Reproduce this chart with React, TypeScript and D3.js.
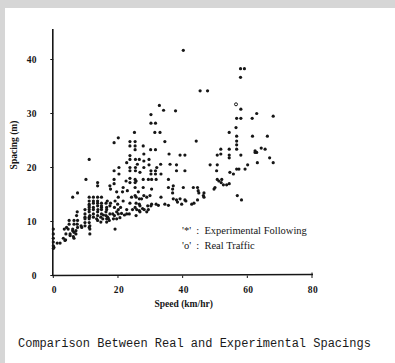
import React from "react";
import * as d3 from "d3";

// [speed (km/hr), spacing (m)]
const points: [number, number][] = [
  [40.2, 41.7], [57.9, 38.3], [59.1, 38.3], [57.9, 36.7], [45.4, 34.2], [47.7, 34.2],
  [32.8, 31.5], [58.0, 30.8], [34.1, 30.6], [37.8, 30.5], [62.9, 30.0], [30.2, 29.8],
  [68.0, 29.5], [56.7, 29.1], [58.0, 29.1], [61.5, 29.1], [30.2, 28.2], [31.6, 28.2],
  [56.5, 27.4], [31.4, 26.5], [33.0, 26.5], [25.1, 26.5], [54.4, 26.5], [56.7, 25.8],
  [61.6, 25.8], [66.2, 25.8], [20.1, 25.5], [56.7, 24.9], [44.2, 24.9], [34.5, 24.8],
  [23.7, 24.8], [25.3, 24.8], [18.8, 24.6], [56.7, 24.2], [23.7, 24.0], [25.3, 24.0],
  [27.8, 24.0], [54.4, 23.4], [56.7, 23.4], [51.8, 23.4], [30.1, 23.3], [31.6, 23.3],
  [25.3, 23.3], [62.4, 23.1], [64.3, 23.6], [65.5, 23.4], [62.4, 22.8], [62.9, 22.8],
  [28.0, 22.5], [35.8, 22.5], [51.8, 22.5], [50.7, 22.3], [58.0, 22.3], [54.4, 22.3],
  [39.2, 22.3], [40.7, 22.3], [23.7, 22.2], [54.4, 21.8], [23.7, 21.5], [25.4, 21.5],
  [29.6, 21.5], [11.1, 21.5], [26.6, 21.5], [28.0, 21.2], [22.7, 20.9], [63.1, 20.9],
  [68.0, 20.9], [66.9, 21.8], [33.2, 20.6], [26.0, 20.6], [36.1, 20.6], [29.6, 20.5],
  [38.1, 20.5], [50.7, 20.5], [48.5, 20.5], [60.1, 20.5], [23.7, 20.0], [25.4, 20.0],
  [32.0, 20.0], [20.3, 20.0], [28.0, 20.0], [56.7, 19.7], [57.4, 19.7], [59.3, 19.7],
  [23.7, 19.4], [25.4, 19.4], [30.2, 19.4], [31.6, 19.4], [50.5, 19.4], [38.1, 19.4],
  [40.7, 19.4], [18.8, 19.4], [26.8, 19.1], [54.6, 19.1], [20.3, 18.8], [30.2, 18.8],
  [31.6, 18.8], [33.3, 18.8], [55.7, 18.8], [23.7, 18.0], [27.8, 17.8], [29.4, 17.8],
  [30.4, 17.8], [31.8, 17.8], [25.3, 17.8], [35.6, 17.8], [50.7, 17.8], [52.1, 17.8],
  [18.8, 17.8], [10.1, 17.8], [22.5, 17.5], [25.6, 17.5], [51.2, 17.5], [23.7, 17.2],
  [25.3, 17.2], [13.7, 17.2], [51.9, 17.2], [18.8, 17.0], [54.4, 17.0], [52.6, 16.8],
  [53.6, 16.8], [13.7, 16.6], [37.1, 16.6], [17.5, 16.6], [27.8, 16.3], [21.6, 16.3],
  [25.3, 16.3], [35.6, 16.3], [40.2, 16.3], [43.3, 16.3], [44.6, 16.3], [50.0, 16.3],
  [17.7, 16.0], [30.4, 16.0], [36.9, 16.0], [49.7, 16.0], [22.9, 15.7], [44.8, 15.7],
  [19.6, 15.5], [26.3, 15.5], [21.4, 15.5], [7.5, 15.3], [36.9, 15.3], [45.0, 15.3],
  [46.6, 15.3], [29.9, 14.8], [25.3, 14.8], [46.4, 14.8], [56.9, 14.8], [28.0, 14.8],
  [11.1, 14.5], [12.4, 14.5], [13.7, 14.5], [14.9, 14.5], [20.1, 14.5], [24.2, 14.5],
  [25.6, 14.5], [28.9, 14.5], [33.3, 14.5], [46.6, 14.5], [6.0, 14.5], [27.3, 14.2],
  [26.6, 14.2], [37.1, 14.2], [38.1, 14.0], [39.2, 14.2], [58.2, 14.0], [40.7, 14.0],
  [44.6, 14.0], [11.1, 13.8], [12.4, 13.8], [13.7, 13.8], [16.7, 13.8], [19.1, 13.8],
  [21.6, 13.8], [38.4, 13.6], [41.0, 13.8], [14.9, 13.4], [16.3, 13.4], [12.4, 13.4],
  [13.7, 13.4], [17.7, 13.4], [23.7, 13.4], [25.6, 13.4], [11.1, 13.2], [19.9, 13.2],
  [26.6, 13.2], [30.4, 13.2], [31.8, 13.2], [32.5, 13.0], [34.5, 13.2], [35.6, 13.0],
  [39.7, 13.2], [42.8, 13.2], [43.5, 13.4], [26.8, 12.9], [13.7, 12.9], [11.1, 12.9],
  [14.9, 12.9], [17.5, 12.9], [29.2, 12.9], [30.2, 12.9], [11.1, 12.6], [12.4, 12.6],
  [14.9, 12.6], [16.5, 12.6], [18.9, 12.6], [20.8, 12.6], [25.3, 12.6], [27.6, 12.4],
  [11.1, 12.2], [9.8, 12.2], [12.4, 12.2], [13.8, 12.2], [14.9, 12.2], [16.5, 12.2],
  [20.1, 12.2], [22.7, 12.2], [24.5, 12.2], [25.8, 12.2], [26.6, 12.0], [28.1, 12.2],
  [29.4, 12.2], [7.4, 11.8], [11.1, 11.8], [13.7, 11.8], [16.3, 11.8], [19.6, 11.8],
  [21.1, 11.5], [26.8, 11.8], [28.9, 11.8], [9.8, 11.4], [12.4, 11.4], [14.9, 11.4],
  [15.5, 11.2], [17.5, 11.4], [18.4, 11.4], [20.1, 11.4], [22.0, 11.2], [23.5, 11.4],
  [25.6, 11.1], [7.2, 11.1], [13.7, 11.1], [16.3, 11.1], [16.8, 10.8], [11.3, 11.1],
  [18.9, 11.1], [22.7, 11.4], [9.8, 10.8], [11.1, 10.8], [12.4, 10.8], [14.7, 10.8],
  [17.0, 10.6], [9.8, 10.5], [11.1, 10.5], [13.4, 10.5], [15.3, 10.5], [16.5, 10.5],
  [18.6, 10.5], [19.6, 10.5], [20.6, 10.7], [4.9, 10.2], [6.4, 10.2], [7.5, 10.2],
  [13.7, 10.2], [17.3, 10.2], [9.8, 9.8], [11.1, 9.8], [14.7, 9.9], [16.5, 9.9],
  [7.4, 9.5], [4.9, 9.5], [6.4, 9.5], [9.8, 9.2], [11.3, 9.2], [8.6, 9.2], [4.1, 8.9],
  [7.5, 8.9], [11.1, 8.9], [8.8, 8.9], [0, 8.6], [3.4, 8.6], [4.6, 8.6], [6.0, 8.6],
  [19.1, 8.6], [11.3, 8.6], [6.0, 8.3], [6.4, 8.0], [7.0, 8.3], [0, 7.7], [3.9, 7.7],
  [5.2, 7.7], [7.0, 7.7], [11.3, 7.7], [5.2, 7.4], [6.2, 7.2], [0, 6.9], [6.4, 6.9],
  [3.1, 6.9], [3.8, 6.6], [3.6, 6.5], [0, 6.2], [1.2, 6.0], [2.1, 6.0], [0, 5.5],
  [0.2, 5.2], [0, 5.0]
];
const openPoints: [number, number][] = [[56.5, 31.7]];

const xTicks = [0, 20, 40, 60, 80];
const yTicks = [0, 10, 20, 30, 40];
const legendLabels = ["'*'  :  Experimental Following", "'o'  :  Real Traffic"];
const xTitle = "Speed (km/hr)";
const yTitle = "Spacing (m)";
const caption = "Comparison Between Real and Experimental Spacings";

export default function App() {
  const W = 395, H = 363;
  const x = d3.scaleLinear().domain([0, 80]).range([53.3, 312]);
  const y = d3.scaleLinear().domain([0, 40]).range([275.5, 59.5]);
  const serif = "'Liberation Serif', 'DejaVu Serif', serif";
  const ink = "#161616";
  return (
    <svg width={W} height={H} style={{ position: "absolute", left: 0, top: 0, display: "block" }}>
      <rect x={0} y={0} width={W} height={H} fill="#d6d6d6" />
      <rect x={5} y={8} width={W - 5} height={H - 8} fill="#ffffff" />
      {/* axes */}
      <line x1={x(0) - 0.5} x2={x(0) - 0.5} y1={29} y2={y(0)} stroke={ink} strokeWidth={1.6} />
      <line x1={x(0) - 1} x2={x(80) + 1} y1={y(0)} y2={y(0) - 1} stroke={ink} strokeWidth={1.6} />
      {yTicks.map((t) => (
        <g key={"y" + t}>
          <line x1={x(0) - 3} x2={x(0)} y1={y(t)} y2={y(t)} stroke={ink} strokeWidth={1} />
          <text x={37} y={y(t) + 3.5} textAnchor="end" fontFamily={serif} fontWeight="bold" fontSize={9.5} fill={ink} letterSpacing={0.4}>
            {t}
          </text>
        </g>
      ))}
      {xTicks.map((t) => (
        <g key={"x" + t}>
          <line x1={x(t)} x2={x(t)} y1={y(0) - (t === 80 ? 3 : 0)} y2={y(0) + 2.5} stroke={ink} strokeWidth={1} />
          <text x={x(t) + 1} y={y(0) + 17} textAnchor="middle" fontFamily={serif} fontWeight="bold" fontSize={9.5} fill={ink} letterSpacing={0.4}>
            {t}
          </text>
        </g>
      ))}
      <text x={x(40) + 1} y={307} textAnchor="middle" fontFamily={serif} fontWeight="bold" fontSize={9.5} fill={ink}>
        {xTitle}
      </text>
      <text
        transform={`translate(17, ${145}) rotate(-90)`}
        textAnchor="middle"
        fontFamily={serif}
        fontWeight="bold"
        fontSize={9.5}
        fill={ink}
      >
        {yTitle}
      </text>
      {/* points */}
      {points.map((p, i) => (
        <circle key={i} cx={x(p[0])} cy={y(p[1])} r={1.6} fill={ink} />
      ))}
      {openPoints.map((p, i) => (
        <circle key={"o" + i} cx={x(p[0])} cy={y(p[1])} r={1.5} fill="none" stroke={ink} strokeWidth={1} />
      ))}
      {/* legend */}
      {legendLabels.map((l, i) => (
        <text key={l} x={182} y={233.5 + i * 15} fontFamily={serif} fontSize={10.5} fill={ink} style={{ whiteSpace: "pre" }}>
          {l}
        </text>
      ))}
      <text x={18} y={347} fontFamily="'Liberation Mono', 'DejaVu Sans Mono', monospace" fontSize={12} fill="#1a1a1a">
        {caption}
      </text>
    </svg>
  );
}
